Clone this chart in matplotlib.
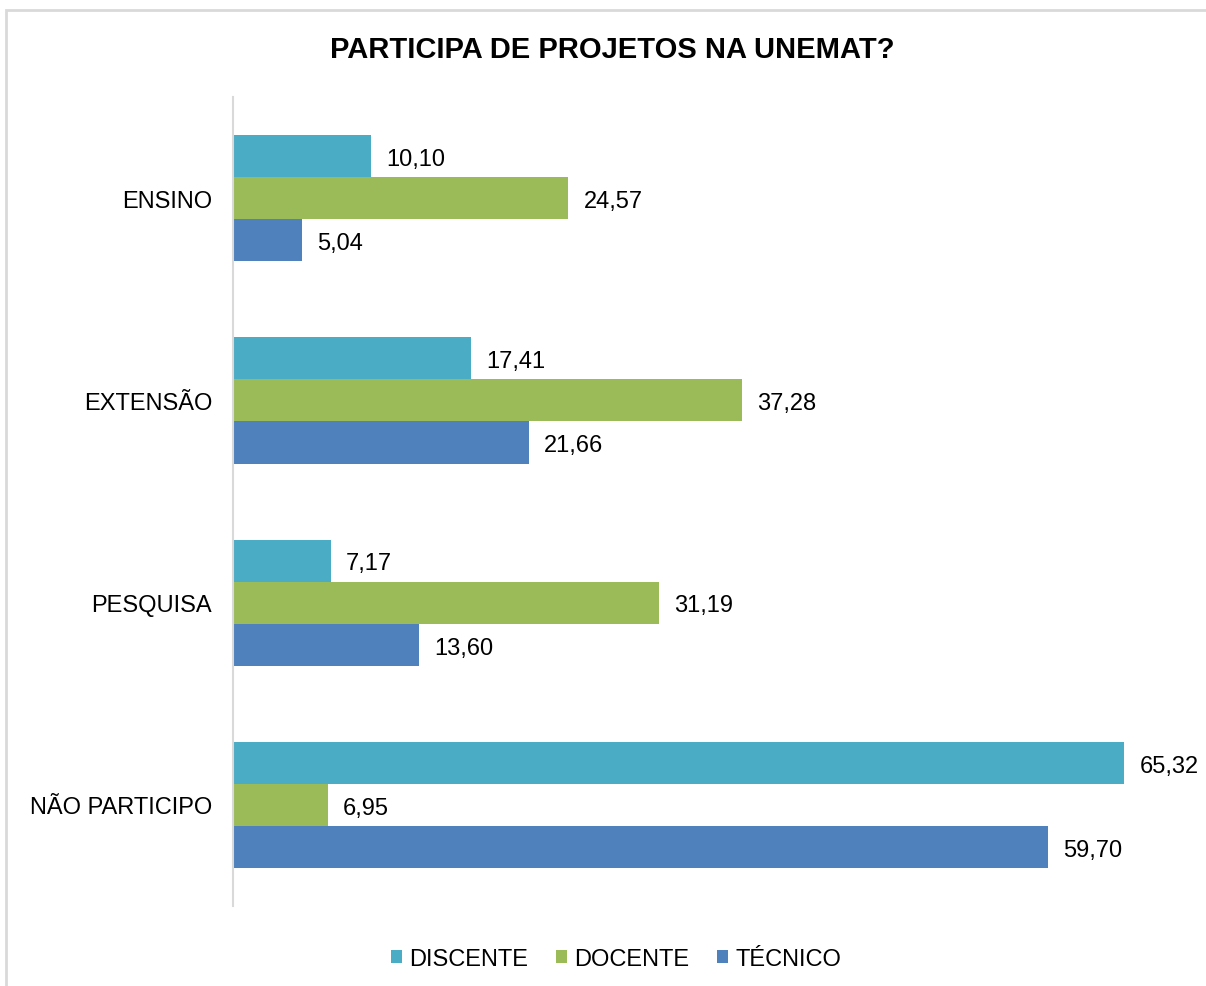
import numpy as np
import matplotlib
matplotlib.use("Agg")
import matplotlib.pyplot as plt
from matplotlib.patches import Patch, Rectangle

# Data
categories = ["ENSINO", "EXTENSÃO", "PESQUISA", "NÃO PARTICIPO"]
series_names = ["DISCENTE", "DOCENTE", "TÉCNICO"]
discente = [10.10, 17.41, 7.17, 65.32]
docente = [24.57, 37.28, 31.19, 6.95]
tecnico = [5.04, 21.66, 13.60, 59.70]
colors = ["#4BACC6", "#9BBB59", "#4F81BD"]

plt.rcParams["font.family"] = ["Liberation Sans", "DejaVu Sans"]

fig = plt.figure(figsize=(12.06, 9.87), dpi=100)
ax = fig.add_axes([0.1932, 0.0810, 0.7919, 0.8197])

y = np.arange(len(categories))
h = 0.208
for i, (vals, name, c) in enumerate(zip([discente, docente, tecnico], series_names, colors)):
    pos = y + (i - 1) * h
    ax.barh(pos, vals, height=h, color=c, label=name)
    # value labels, comma decimal
    for v, p in zip(vals, pos):
        ax.annotate(f"{v:.2f}".replace(".", ","), (v, p), xytext=(11, -2),
                    textcoords="offset points", va="center", ha="left", fontsize=17)

ax.set_ylim(-0.5, len(categories) - 0.5)
ax.invert_yaxis()
ax.set_xlim(0, 70)
ax.set_yticks(y)
ax.set_yticklabels(categories, fontsize=17)
ax.tick_params(axis="y", length=0, pad=15)
ax.set_xticks([])
for s in ["top", "right", "bottom"]:
    ax.spines[s].set_visible(False)
ax.spines["left"].set_color("#D9D9D9")
ax.spines["left"].set_linewidth(1.5)

fig.text(0.5075, 1 - 50 / 987, "PARTICIPA DE PROJETOS NA UNEMAT?",
         ha="center", va="center", fontsize=21, fontweight="bold")

handles = [Patch(facecolor=c, edgecolor="none") for c in colors]
fig.legend(handles, series_names, loc="center", bbox_to_anchor=(616 / 1206, 1 - 960 / 987),
           ncol=3, frameon=False, fontsize=17, handlelength=0.45, handleheight=0.45,
           handletextpad=0.3, columnspacing=1.2)

# outer chart border
fig.patches.append(Rectangle((6 / 1206, -0.5), 2, 0.5 + 1 - 11 / 987, transform=fig.transFigure,
                             fill=False, edgecolor="#D9D9D9", linewidth=2))

fig.savefig("out.png", dpi=100)
